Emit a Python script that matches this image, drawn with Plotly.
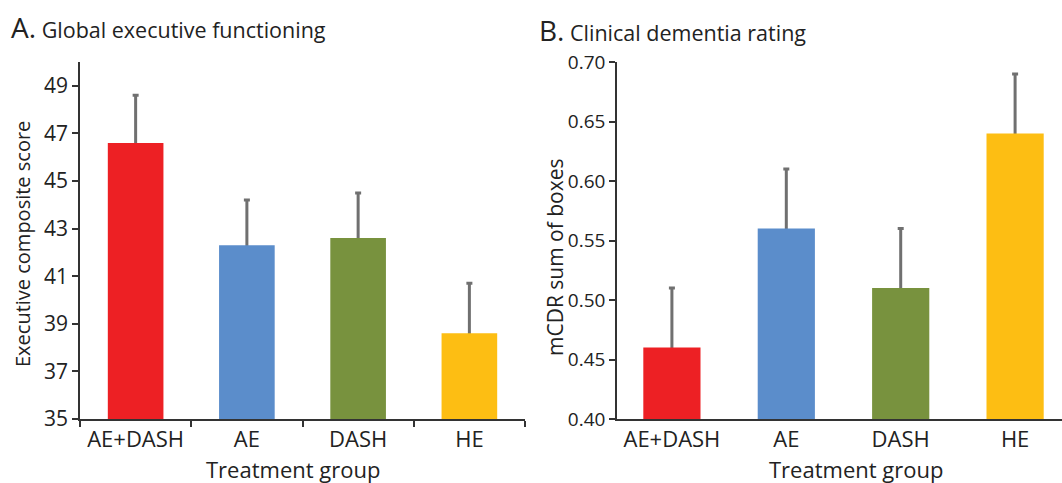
import plotly.graph_objects as go

groups = ["AE+DASH", "AE", "DASH", "HE"]
colors = ["#ED2024", "#5B8DCB", "#78923E", "#FDBE13"]

exec_scores = [46.6, 42.3, 42.6, 38.6]
exec_err = [2.0, 1.9, 1.9, 2.1]

cdr_scores = [0.46, 0.56, 0.51, 0.64]
cdr_err = [0.05, 0.05, 0.05, 0.05]

exec_ticks = [35, 37, 39, 41, 43, 45, 47, 49]
cdr_ticks = [0.40, 0.45, 0.50, 0.55, 0.60, 0.65, 0.70]

FONT = "Open Sans"
TXT = "#222222"
AX = "#333333"
ERR = "#707070"
W, H = 1062, 483

fig = go.Figure()

def add_panel(vals, errs, xa, ya):
    # error bars (lower half hidden behind the bars drawn afterwards)
    fig.add_trace(go.Bar(
        x=groups, y=vals, width=0.5, xaxis=xa, yaxis=ya,
        marker=dict(color="rgba(0,0,0,0)", line=dict(width=0)),
        error_y=dict(type="data", array=errs, symmetric=True,
                     color=ERR, thickness=3, width=3),
        showlegend=False, hoverinfo="skip"))
    fig.add_trace(go.Bar(
        x=groups, y=vals, width=0.5, xaxis=xa, yaxis=ya,
        marker=dict(color=colors, line=dict(width=0)),
        showlegend=False))

add_panel(exec_scores, exec_err, "x", "y")
add_panel(cdr_scores, cdr_err, "x2", "y2")

ybot = (H - 419) / H
ytop = (H - 62) / H

common_x = dict(type="category", showline=True, linecolor=AX, linewidth=1.5,
                showgrid=False, zeroline=False, automargin=False,
                tickfont=dict(size=22, family=FONT, color=TXT), fixedrange=True)
common_y = dict(showline=True, linecolor=AX, linewidth=1.5,
                ticks="outside", ticklen=6, tickcolor=AX, tickwidth=1.5,
                showgrid=False, zeroline=False, automargin=False, fixedrange=True)

fig.update_layout(
    template="none",
    width=W, height=H,
    margin=dict(l=0, r=0, t=0, b=0, pad=0),
    paper_bgcolor="white", plot_bgcolor="white",
    barmode="overlay",
    font=dict(family=FONT, size=21, color=TXT),
    xaxis=dict(domain=[80 / W, 525 / W], range=[-0.5, 3.5],
               ticks="outside", tickson="boundaries", ticklen=6,
               tickcolor=AX, tickwidth=1.5, anchor="y", **common_x),
    yaxis=dict(domain=[ybot, ytop], range=[35, 50], tickvals=exec_ticks,
               tickfont=dict(size=21, family=FONT, color=TXT),
               anchor="x", **common_y),
    xaxis2=dict(domain=[617 / W, 1.0], range=[-0.48, 3.41],
                ticks="", anchor="y2", **common_x),
    yaxis2=dict(domain=[ybot, ytop], range=[0.4, 0.7], tickvals=cdr_ticks,
                tickformat=".2f", tickfont=dict(size=19, family=FONT, color=TXT),
                anchor="x2", **common_y),
)

annots = [
    dict(text="<span style='font-size:28px'>A.</span> Global executive functioning",
         x=9 / W, y=1 - 27 / H, xanchor="left", yanchor="middle", font=dict(size=21.5)),
    dict(text="<span style='font-size:28px'>B.</span> Clinical dementia rating",
         x=537 / W, y=1 - 30 / H, xanchor="left", yanchor="middle", font=dict(size=21.5)),
    dict(text="Treatment group", x=293 / W, y=1 - 469 / H,
         xanchor="center", yanchor="middle", font=dict(size=22)),
    dict(text="Treatment group", x=856 / W, y=1 - 469 / H,
         xanchor="center", yanchor="middle", font=dict(size=22)),
    dict(text="Executive composite score", x=22 / W, y=1 - 244 / H, textangle=-90,
         xanchor="center", yanchor="middle", font=dict(size=20)),
    dict(text="mCDR sum of boxes", x=555 / W, y=1 - 257 / H, textangle=-90,
         xanchor="center", yanchor="middle", font=dict(size=21)),
]
for a in annots:
    a.update(xref="paper", yref="paper", showarrow=False)
    a["font"] = dict(family=FONT, color=TXT, size=a["font"]["size"])
fig.update_layout(annotations=annots)

fig.write_html("out.html", config={"displayModeBar": False},
               post_script="document.body.style.margin='0px';document.body.style.overflow='hidden';")
